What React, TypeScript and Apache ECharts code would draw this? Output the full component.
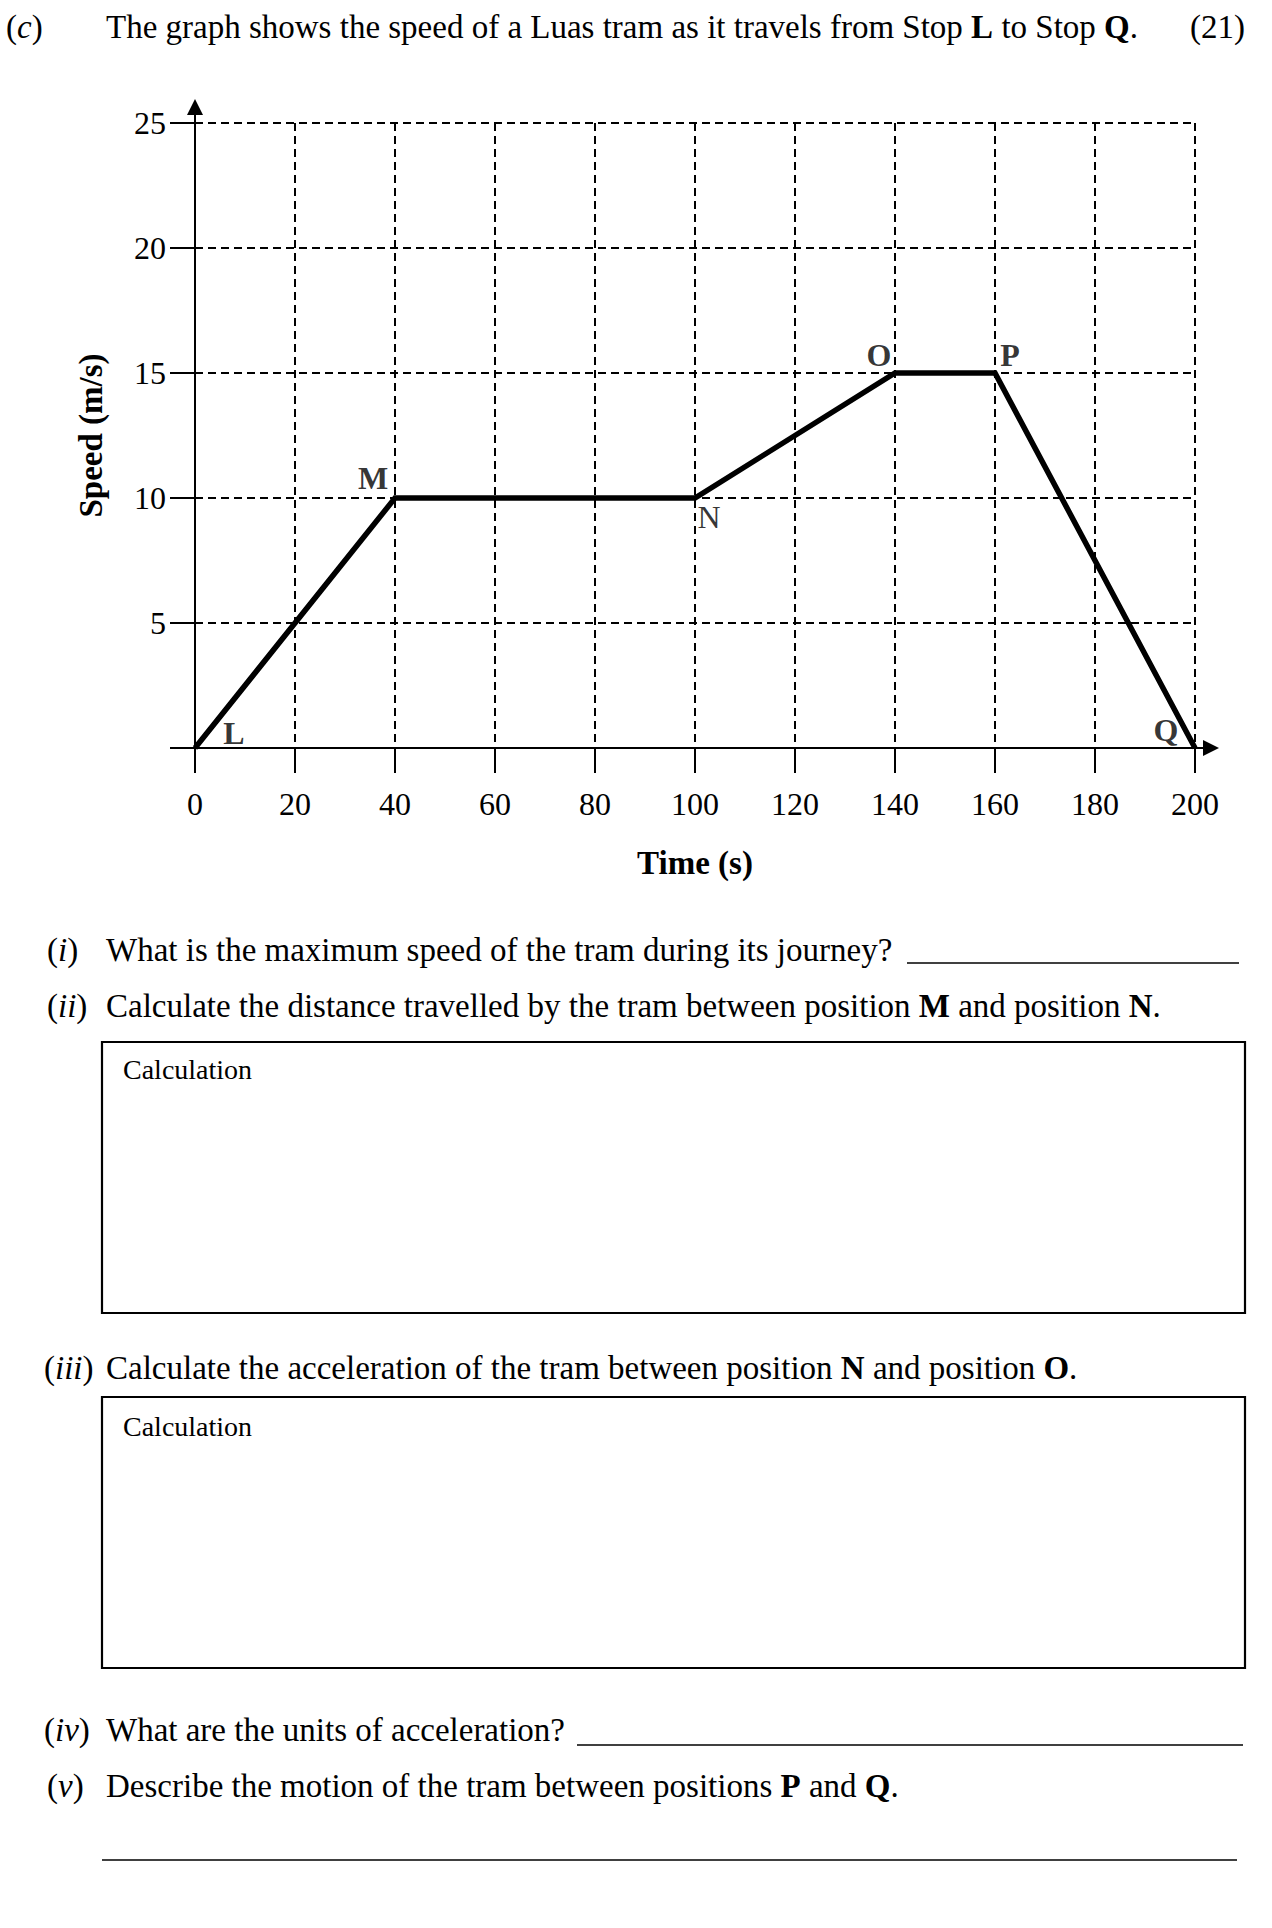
import React, { useEffect, useRef } from 'react';
import * as echarts from 'echarts';

// ---- data ----
const times = [0, 40, 100, 140, 160, 200];
const speeds = [0, 10, 10, 15, 15, 0];
const stopNames = ['L', 'M', 'N', 'O', 'P', 'Q'];
const xTickStep = 20;
const yTickStep = 5;
const xMax = 200;
const yMax = 25;

// ---- styling ----
const SERIF = 'Liberation Serif';
const BODY = 33;
const stopBold = [true, true, false, true, true, true];
const stopOffsets: [number, number][] = [
  [39, -15],
  [-22, -20],
  [14, 19],
  [-16, -18],
  [15, -18],
  [-29, -18],
];

const RICH = {
  it: { fontStyle: 'italic', fontFamily: SERIF, fontSize: BODY, fill: '#000' },
  b: { fontWeight: 'bold', fontFamily: SERIF, fontSize: BODY, fill: '#000' },
};

let uid = 0;
const txt = (x: number, y: number, text: string, extra: any = {}) => ({
  id: 't' + uid++,
  type: 'text',
  x,
  y,
  silent: true,
  style: {
    text,
    fontFamily: SERIF,
    fontSize: BODY,
    fill: '#000',
    align: 'left',
    verticalAlign: 'middle',
    rich: RICH,
    ...extra,
  },
});
const hline = (x1: number, x2: number, y: number, w = 1.5) => ({
  id: 'l' + uid++,
  type: 'line',
  silent: true,
  shape: { x1, y1: y, x2, y2: y },
  style: { stroke: '#000', lineWidth: w },
});
const box = (x: number, y: number, w: number, h: number) => ({
  id: 'r' + uid++,
  type: 'rect',
  silent: true,
  shape: { x, y, width: w, height: h },
  style: { fill: 'none', stroke: '#000', lineWidth: 2.2 },
});

export default function App() {
  const ref = useRef<HTMLDivElement>(null);

  useEffect(() => {
    if (!ref.current) return;
    const chart = echarts.init(ref.current, null, { renderer: 'svg' });
    uid = 0;
    const pageGraphics = [
      txt(6, 27, '({it|c})'),
      txt(106, 27, 'The graph shows the speed of a Luas tram as it travels from Stop {b|L} to Stop {b|Q}.'),
      txt(1245, 27, '(21)', { align: 'right' }),
      txt(47, 950, '({it|i})'),
      txt(106, 950, 'What is the maximum speed of the tram during its journey?'),
      hline(907, 1239, 963),
      txt(47, 1006, '({it|ii})'),
      txt(106, 1006, 'Calculate the distance travelled by the tram between position {b|M} and position {b|N}.'),
      box(102, 1042, 1143, 271),
      txt(123, 1069, 'Calculation', { fontSize: 28 }),
      txt(44, 1368, '({it|iii})'),
      txt(106, 1368, 'Calculate the acceleration of the tram between position {b|N} and position {b|O}.'),
      box(102, 1397, 1143, 271),
      txt(123, 1426, 'Calculation', { fontSize: 28 }),
      txt(44, 1730, '({it|iv})'),
      txt(106, 1730, 'What are the units of acceleration?'),
      hline(577, 1243, 1745),
      txt(47, 1786, '({it|v})'),
      txt(106, 1786, 'Describe the motion of the tram between positions {b|P} and {b|Q}.'),
      hline(102, 1237, 1860),
    ];

    const dash = { color: '#000', width: 2, type: [8, 5] as any };

    chart.setOption({
      animation: false,
      backgroundColor: '#fff',
      textStyle: { fontFamily: SERIF },
      grid: { left: 195, top: 123, width: 1000, height: 625, containLabel: false },
      xAxis: {
        type: 'value',
        min: 0,
        max: xMax,
        interval: xTickStep,
        name: 'Time (s)',
        nameLocation: 'middle',
        nameGap: 98,
        nameTextStyle: { fontFamily: SERIF, fontSize: BODY, fontWeight: 'bold', color: '#000' },
        axisLine: { show: true, onZero: false, lineStyle: { color: '#000', width: 2 } },
        axisTick: { show: true, length: 25, lineStyle: { color: '#000', width: 2 } },
        axisLabel: { color: '#000', fontFamily: SERIF, fontSize: 32, margin: 40 },
        splitLine: { show: true, lineStyle: dash },
      },
      yAxis: {
        type: 'value',
        min: 0,
        max: yMax,
        interval: yTickStep,
        name: 'Speed (m/s)',
        nameLocation: 'middle',
        nameGap: 88,
        nameRotate: 90,
        nameTextStyle: { fontFamily: SERIF, fontSize: BODY, fontWeight: 'bold', color: '#000' },
        axisLine: { show: true, onZero: false, lineStyle: { color: '#000', width: 2 } },
        axisTick: { show: true, length: 25, lineStyle: { color: '#000', width: 2 } },
        axisLabel: {
          color: '#000',
          fontFamily: SERIF,
          fontSize: 32,
          margin: 29,
          formatter: (v: number) => (v === 0 ? '' : String(v)),
        },
        splitLine: { show: true, lineStyle: dash },
      },
      series: [
        {
          type: 'line',
          data: times.map((t, i) => [t, speeds[i]]),
          symbol: 'none',
          lineStyle: { color: '#000', width: 5.5, join: 'miter' },
          z: 5,
        },
        {
          type: 'scatter',
          symbolSize: 1,
          itemStyle: { color: 'rgba(0,0,0,0)' },
          z: 6,
          data: times.map((t, i) => ({
            value: [t, speeds[i]],
            label: {
              show: true,
              formatter: stopNames[i],
              position: 'inside',
              offset: stopOffsets[i],
              color: '#000',
              fontFamily: SERIF,
              fontSize: 32,
              fontWeight: stopBold[i] ? 'bold' : 'normal',
            },
          })),
        },
      ],
      graphic: pageGraphics,
    });

    // axis arrow heads, positioned from the library's own scales
    const yTop = chart.convertToPixel({ gridIndex: 0 }, [0, yMax]) as number[];
    const xEnd = chart.convertToPixel({ gridIndex: 0 }, [xMax, 0]) as number[];
    chart.setOption({
      graphic: [
        {
          id: 'yExt',
          type: 'line',
          silent: true,
          shape: { x1: yTop[0], y1: yTop[1], x2: yTop[0], y2: yTop[1] - 10 },
          style: { stroke: '#000', lineWidth: 2 },
        },
        {
          id: 'yArrow',
          type: 'polygon',
          silent: true,
          shape: {
            points: [
              [yTop[0], yTop[1] - 24],
              [yTop[0] - 8, yTop[1] - 8],
              [yTop[0] + 8, yTop[1] - 8],
            ],
          },
          style: { fill: '#000' },
        },
        {
          id: 'xExt',
          type: 'line',
          silent: true,
          shape: { x1: xEnd[0], y1: xEnd[1], x2: xEnd[0] + 10, y2: xEnd[1] },
          style: { stroke: '#000', lineWidth: 2 },
        },
        {
          id: 'xArrow',
          type: 'polygon',
          silent: true,
          shape: {
            points: [
              [xEnd[0] + 24, xEnd[1]],
              [xEnd[0] + 8, xEnd[1] - 8],
              [xEnd[0] + 8, xEnd[1] + 8],
            ],
          },
          style: { fill: '#000' },
        },
      ],
    });

    return () => chart.dispose();
  }, []);

  return (
    <div
      ref={ref}
      style={{ position: 'absolute', left: 0, top: 0, width: 1272, height: 1928, background: '#fff' }}
    />
  );
}
